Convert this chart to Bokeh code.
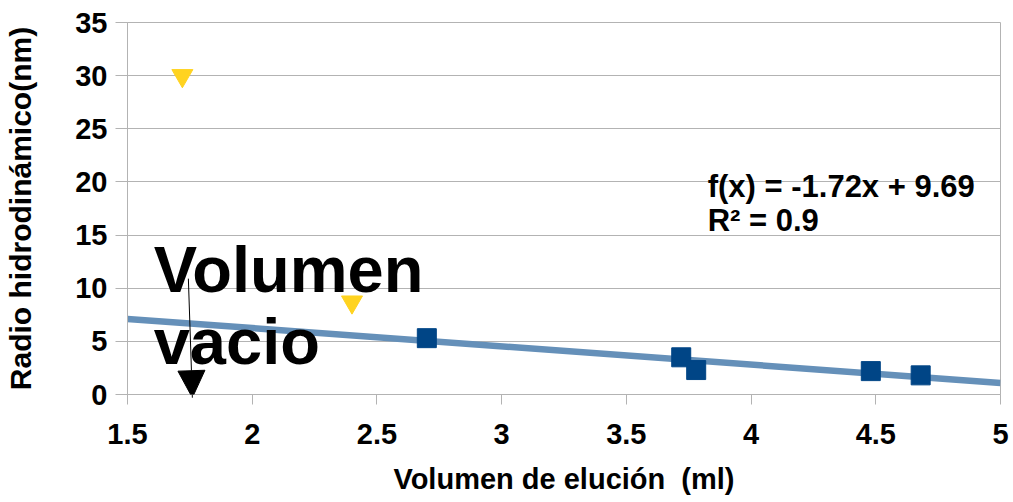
from bokeh.plotting import figure
from bokeh.models import (FixedTicker, Label, Arrow, NormalHead, Range1d)
from bokeh.embed import file_html
from bokeh.resources import INLINE
import numpy as np

# ---- data ----
blue_x = [2.70, 3.72, 3.78, 4.48, 4.68]
blue_y = [5.3, 3.5, 2.3, 2.2, 1.8]
yellow_x = [1.72, 2.40]
yellow_y = [30.0, 8.7]
trend_slope = -1.72
trend_intercept = 9.69
trend_x = [1.5, 5.0]
x_ticks = [1.5, 2.0, 2.5, 3.0, 3.5, 4.0, 4.5, 5.0]
x_tick_labels = ["1.5", "2", "2.5", "3", "3.5", "4", "4.5", "5"]
y_ticks = [0, 5, 10, 15, 20, 25, 30, 35]
x_title = "Volumen de elución\u00a0 (ml)"
y_title = "Radio hidrodinámico(nm)"
eq_text = "f(x) = -1.72x + 9.69"
r2_text = "R² = 0.9"
note_line1 = "Volumen"
note_line2 = "vacio"
arrow_start = (1.744, 10.9)
arrow_end = (1.76, -0.3)

FONT = "Liberation Sans"
GRID = "#b3b3b3"

p = figure(width=1010, height=500, output_backend="svg", toolbar_location=None,
           x_range=Range1d(1.5, 5.0), y_range=Range1d(0, 35),
           min_border_left=127, min_border_right=10, min_border_top=22, min_border_bottom=106)
p.outline_line_color = GRID
p.outline_line_width = 1
p.background_fill_color = "white"
p.border_fill_color = "white"

p.xgrid.grid_line_color = None
p.ygrid.grid_line_color = GRID
p.ygrid.grid_line_width = 1

p.xaxis.ticker = FixedTicker(ticks=x_ticks)
p.xaxis.major_label_overrides = dict(zip(x_ticks, x_tick_labels))
p.yaxis.ticker = FixedTicker(ticks=y_ticks)

for ax in (p.xaxis, p.yaxis):
    ax.axis_line_color = GRID
    ax.major_tick_line_color = GRID
    ax.minor_tick_line_color = None
    ax.major_tick_in = 0
    ax.major_label_text_font = FONT
    ax.major_label_text_font_style = "bold"
    ax.major_label_text_font_size = "29px"
    ax.major_label_text_color = "black"
    ax.axis_label_text_font = FONT
    ax.axis_label_text_font_style = "bold"
    ax.axis_label_text_color = "black"

p.xaxis.major_tick_out = 10
p.xaxis.major_label_standoff = 19
p.xaxis.axis_label = x_title
p.xaxis.axis_label_text_font_size = "29px"
p.xaxis.axis_label_standoff = 16

p.yaxis.major_tick_out = 12
p.yaxis.major_label_standoff = 8
p.yaxis.axis_label = y_title
p.yaxis.axis_label_text_font_size = "30px"
p.yaxis.axis_label_standoff = 35

# trend line
tx = np.array(trend_x)
p.line(tx, trend_slope * tx + trend_intercept, line_color="#6590b9", line_width=6.5)

# series
p.scatter(blue_x, blue_y, marker="square", size=19, fill_color="#004586", line_color="#004586")
p.scatter(yellow_x, yellow_y, marker="inverted_triangle", size=21, fill_color="#ffd320", line_color="#ffd320")

def lab(x, y, text, size, **kw):
    p.add_layout(Label(x=x, y=y, text=text, text_font=FONT, text_font_style="bold",
                       text_font_size=size, text_color="black", text_baseline="alphabetic", **kw))

# equation
lab(3.826, 19.54, eq_text, "31px")
lab(3.826, 16.33, r2_text, "31px")

# annotation
lab(1.605, 11.75, note_line1, "65px")
lab(1.605, 4.96, note_line2, "65px")
p.add_layout(Arrow(x_start=arrow_start[0], y_start=arrow_start[1], x_end=arrow_end[0], y_end=arrow_end[1],
                   line_color="black", line_width=1,
                   end=NormalHead(size=27, fill_color="black", line_color="black", line_width=1)))

open("out.html", "w").write(file_html(p, INLINE))
